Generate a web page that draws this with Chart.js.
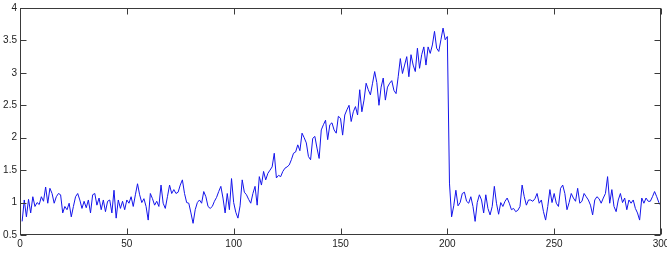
<!DOCTYPE html>
<html>
<head>
  <meta charset="UTF-8">
  <title>Signal</title>
  <script src="https://cdn.jsdelivr.net/npm/chart.js"></script>
  <style>
    html, body { margin: 0; padding: 0; background: #fff; }
    .wrap { width: 667px; height: 259px; position: relative; }
  </style>
</head>
<body>
  <div class="wrap"><canvas id="sig"></canvas></div>
  <script>
    // signal values, sample 1..300
    const ys = [
      0.71, 1.04, 0.78, 1.05, 0.84, 1.09, 0.94, 1.00, 0.97, 1.09,
      1.02, 1.24, 0.99, 1.22, 1.14, 0.99, 1.09, 1.14, 1.12, 0.84,
      0.94, 0.89, 0.99, 0.78, 0.94, 1.09, 1.14, 1.04, 0.91, 1.02,
      0.92, 1.04, 0.84, 1.12, 1.14, 0.96, 1.07, 0.89, 1.04, 0.86,
      1.02, 1.04, 0.84, 1.19, 0.76, 1.04, 0.91, 1.02, 0.89, 1.04,
      0.99, 1.09, 0.94, 1.12, 1.29, 1.12, 1.00, 1.06, 0.94, 0.73,
      1.14, 1.06, 0.96, 1.02, 0.94, 1.27, 0.99, 0.91, 1.09, 1.27,
      1.14, 1.20, 1.14, 1.16, 1.27, 1.35, 1.14, 1.00, 0.99, 0.84,
      0.68, 0.89, 1.00, 1.04, 0.99, 1.17, 1.09, 0.94, 0.91, 0.94,
      1.02, 1.08, 1.17, 1.25, 1.07, 0.84, 1.14, 0.89, 1.37, 1.00,
      0.85, 0.76, 0.95, 1.35, 1.16, 1.12, 1.05, 0.99, 1.14, 1.25,
      0.96, 1.40, 1.27, 1.48, 1.35, 1.45, 1.50, 1.55, 1.76, 1.38,
      1.42, 1.40, 1.48, 1.53, 1.55, 1.58, 1.66, 1.76, 1.78, 1.89,
      1.80, 2.07, 2.00, 1.92, 1.71, 1.66, 1.99, 2.02, 1.84, 1.68,
      2.12, 2.20, 2.27, 1.97, 2.20, 2.23, 2.12, 2.07, 2.33, 2.30,
      2.04, 2.35, 2.43, 2.50, 2.25, 2.40, 2.48, 2.35, 2.74, 2.40,
      2.58, 2.84, 2.74, 2.66, 2.84, 3.02, 2.85, 2.50, 2.78, 2.92,
      2.58, 2.78, 2.84, 2.88, 2.73, 2.68, 2.94, 3.22, 2.99, 3.12,
      3.25, 2.94, 3.28, 3.12, 3.02, 3.38, 3.07, 3.28, 3.40, 3.12,
      3.40, 3.30, 3.43, 3.64, 3.38, 3.33, 3.51, 3.69, 3.51, 3.56,
      1.30, 0.78, 0.95, 1.19, 0.95, 1.00, 1.14, 1.16, 1.02, 0.99,
      1.09, 0.94, 0.71, 1.00, 1.12, 1.04, 0.84, 1.12, 0.91, 0.81,
      0.94, 1.25, 0.99, 0.82, 1.00, 0.94, 1.02, 1.07, 0.99, 0.89,
      0.91, 0.86, 0.88, 0.94, 1.27, 1.09, 0.96, 1.04, 1.04, 1.02,
      1.06, 1.14, 0.99, 1.04, 0.86, 0.73, 0.94, 1.20, 1.00, 1.14,
      0.99, 0.94, 1.22, 1.27, 1.14, 0.89, 1.00, 1.14, 1.07, 1.02,
      1.22, 0.99, 1.02, 1.14, 1.09, 1.04, 0.96, 0.81, 1.04, 1.09,
      1.06, 0.99, 1.07, 1.14, 1.40, 0.99, 1.20, 0.94, 0.86, 1.04,
      1.14, 1.00, 1.07, 0.89, 1.04, 0.99, 1.04, 0.91, 0.84, 0.73,
      1.07, 0.99, 1.07, 1.02, 1.02, 1.09, 1.17, 1.09, 1.00, 0.95
    ];
    const xTicks = [0, 50, 100, 150, 200, 250, 300];
    const yTicks = [0.5, 1, 1.5, 2, 2.5, 3, 3.5, 4];

    const points = ys.map((v, i) => ({ x: i + 1, y: v }));

    // matlab style box with inward ticks on all four sides
    const boxTicks = {
      id: 'boxTicks',
      afterDraw(chart) {
        const { ctx, chartArea: a, scales: { x, y } } = chart;
        const L = Math.round(a.left) + 0.5, R = Math.round(a.right) - 0.5;
        const T = Math.round(a.top) + 0.5, B = Math.round(a.bottom) - 0.5;
        const len = 6;
        ctx.save();
        ctx.strokeStyle = '#3a3a3a';
        ctx.lineWidth = 1;
        ctx.strokeRect(L, T, R - L, B - T);
        ctx.beginPath();
        xTicks.forEach(v => {
          const px = Math.round(x.getPixelForValue(v)) + 0.5;
          ctx.moveTo(px, B); ctx.lineTo(px, B - len);
          ctx.moveTo(px, T); ctx.lineTo(px, T + len);
        });
        yTicks.forEach(v => {
          const py = Math.round(y.getPixelForValue(v)) + 0.5;
          ctx.moveTo(L, py); ctx.lineTo(L + len, py);
          ctx.moveTo(R, py); ctx.lineTo(R - len, py);
        });
        ctx.stroke();
        ctx.restore();
      }
    };

    const tickFont = { family: 'Arial, "Liberation Sans", sans-serif', size: 10, weight: 'normal' };

    new Chart(document.getElementById('sig'), {
      type: 'line',
      data: {
        datasets: [{
          data: points,
          borderColor: 'rgb(20,20,235)',
          borderWidth: 1,
          pointRadius: 0,
          tension: 0,
          fill: false
        }]
      },
      options: {
        responsive: true,
        maintainAspectRatio: false,
        animation: false,
        events: [],
        layout: { padding: { top: 8, right: 6, left: 0, bottom: 0 } },
        plugins: { legend: { display: false }, tooltip: { enabled: false } },
        scales: {
          x: {
            type: 'linear',
            min: 0, max: 300,
            grid: { display: false, drawTicks: false },
            border: { display: false },
            afterBuildTicks: s => { s.ticks = xTicks.map(v => ({ value: v })); },
            afterFit: s => { s.height = 24; s.paddingLeft = 0; s.paddingRight = 0; },
            ticks: { color: '#222', font: tickFont, padding: 3, maxRotation: 0, callback: v => String(v) }
          },
          y: {
            min: 0.5, max: 4,
            grid: { display: false, drawTicks: false },
            border: { display: false },
            afterBuildTicks: s => { s.ticks = yTicks.map(v => ({ value: v })); },
            afterFit: s => { s.width = 20; s.paddingTop = 0; s.paddingBottom = 0; },
            ticks: { color: '#222', font: tickFont, padding: 3, callback: v => String(v) }
          }
        }
      },
      plugins: [boxTicks]
    });
  </script>
</body>
</html>
